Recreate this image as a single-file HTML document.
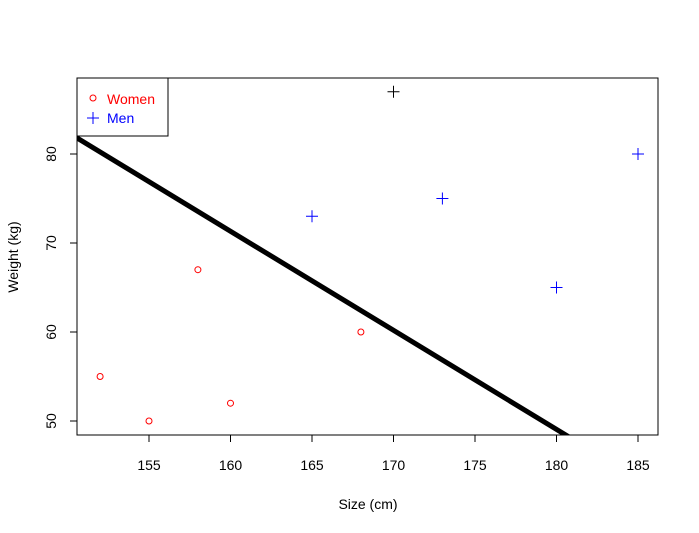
<!DOCTYPE html>
<html><head><meta charset="utf-8"><style>body{margin:0;background:#fff}svg{display:block;font-family:"Liberation Sans",sans-serif}</style></head>
<body>
<svg id="chart" width="699" height="533">
<defs><clipPath id="clip"><rect x="77" y="78" width="581" height="357"/></clipPath></defs>
<rect x="77" y="78" width="581" height="357" fill="none" stroke="#000"/>
<g id="xaxis"></g>
<g id="yaxis"></g>
<text x="368" y="509" font-size="14" text-anchor="middle">Size (cm)</text>
<text transform="translate(18,257) rotate(-90)" font-size="14" text-anchor="middle">Weight (kg)</text>
<g id="marks"></g>
<line id="fit" clip-path="url(#clip)" stroke="#000" stroke-width="5"/>
<g>
<rect x="77" y="78" width="91" height="58" fill="#fff" stroke="#000"/>
<circle cx="93" cy="98" r="3" fill="none" stroke="red"/>
<text x="107" y="104" font-size="14" fill="red">Women</text>
<path d="M87 118h12M93 112v12" stroke="blue"/>
<text x="107" y="123" font-size="14" fill="blue">Men</text>
</g>
</svg>
<script>
const womenX=[152,155,158,160,168];
const womenY=[55,50,67,52,60];
const menX=[165,170,173,180,185];
const menY=[73,87,75,65,80];
const menColors=["blue","black","blue","blue","blue"];
const xTicks=[155,160,165,170,175,180,185];
const yTicks=[50,60,70,80];
const lineIntercept=249.4, lineSlope=-1.113;
const sx=v=>149+(v-155)*16.3;
const sy=v=>421-(v-50)*8.9;
const NS="http://www.w3.org/2000/svg";
function mk(t,a,p){const e=document.createElementNS(NS,t);for(const k in a)e.setAttribute(k,a[k]);p.appendChild(e);return e;}
const xa=document.getElementById('xaxis'),ya=document.getElementById('yaxis'),m=document.getElementById('marks');
mk('line',{x1:sx(155),x2:sx(185),y1:435,y2:435,stroke:'#000'},xa);
xTicks.forEach(t=>{const l=mk('line',{x1:sx(t),x2:sx(t),y1:435,y2:442,stroke:'#000'},xa);


const tx=mk('text',{x:sx(t),y:470,'font-size':14,'text-anchor':'middle'},xa);tx.textContent=t;

});
mk('line',{x1:77,x2:77,y1:sy(50),y2:sy(80),stroke:'#000'},ya);
yTicks.forEach(t=>{const l=mk('line',{x1:70,x2:77,y1:sy(t),y2:sy(t),stroke:'#000'},ya);


const tx=mk('text',{'font-size':14,'text-anchor':'middle',transform:`translate(56,${sy(t)}) rotate(-90)`},ya);tx.textContent=t;

});
womenX.forEach((x,i)=>{const c=mk('circle',{cx:sx(x),cy:sy(womenY[i]),r:3,fill:'none',stroke:'red'},m);

});
menX.forEach((x,i)=>{const X=sx(x),Y=sy(menY[i]);const p=mk('path',{d:`M${X-6} ${Y}h12M${X} ${Y-6}v12`,stroke:menColors[i]},m);

});
const f=document.getElementById('fit');
f.setAttribute('x1',sx(148));f.setAttribute('y1',sy(lineIntercept+lineSlope*148));
f.setAttribute('x2',sx(185));f.setAttribute('y2',sy(lineIntercept+lineSlope*185));
</script>
</body></html>
